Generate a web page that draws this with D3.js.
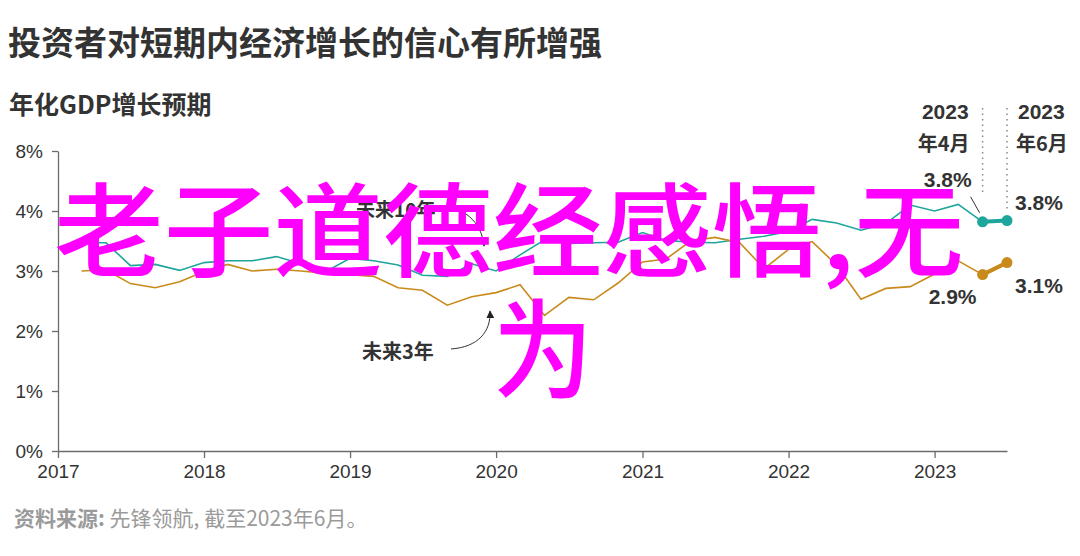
<!DOCTYPE html>
<html>
<head>
<meta charset="utf-8">
<script src="https://cdn.jsdelivr.net/npm/d3@7"></script>
<style>
  body { margin: 0; background: #fff; }
  svg text { font-family: "Liberation Sans", Arial, "Noto Sans CJK SC", sans-serif; }
  .cjk { font-family: "Noto Sans CJK SC", sans-serif; }
</style>
</head>
<body>
<div id="chart"></div>
<script>
// data: end-of-month readings, every second month
var months = ["2017-02","2017-04","2017-06","2017-08","2017-10","2017-12",
  "2018-02","2018-04","2018-06","2018-08","2018-10","2018-12",
  "2019-02","2019-04","2019-06","2019-08","2019-10","2019-12",
  "2020-02","2020-04","2020-06","2020-08","2020-10","2020-12",
  "2021-02","2021-04","2021-06","2021-08","2021-10","2021-12",
  "2022-02","2022-04","2022-06","2022-08","2022-10","2022-12",
  "2023-02","2023-04","2023-06"];

// 未来10年
var tenYear = [3.47,3.47,3.09,3.11,3.01,3.14,3.17,3.17,3.24,3.12,2.99,3.21,
  3.17,3.10,2.93,2.91,3.12,3.00,3.27,3.52,3.46,3.47,3.48,3.64,
  3.51,3.48,3.47,3.53,3.58,3.66,3.86,3.80,3.68,3.79,4.10,4.00,
  4.11,3.82,3.84];

// 未来3年
var threeYear = [3.00,3.02,2.79,2.72,2.82,2.99,3.11,3.00,3.03,3.00,2.96,2.94,
  2.91,2.72,2.68,2.43,2.57,2.64,2.77,2.26,2.56,2.52,2.80,3.15,
  3.20,3.50,3.56,3.47,3.04,3.36,3.49,3.10,2.53,2.71,2.74,2.95,
  3.17,2.94,3.14];

var yTickValues = [0, 1, 2, 3, 4, 5];
var yTickLabels = ["0%", "1%", "2%", "3%", "4%", "8%"];
var xTickYears = [2017, 2018, 2019, 2020, 2021, 2022, 2023];

var teal = "#1ea59c", gold = "#c98a1c", ink = "#333";

var width = 1080, height = 556;

var svg = d3.select("#chart")
    .append("svg")
    .attr("width", width)
    .attr("height", height);

var parseMonth = d3.timeParse("%Y-%m");
// plot each reading at the end of its month
var dates = months.map(function (m) { return d3.timeMonth.offset(parseMonth(m), 1); });

var x = d3.scaleTime()
    .domain([new Date(2017, 0, 1), new Date(2023, 6, 1)])
    .range([58, 1007]);

var y = d3.scaleLinear()
    .domain([0, 5])
    .range([451, 151]);

// titles
svg.append("text")
    .attr("class", "cjk")
    .attr("x", 8).attr("y", 55)
    .style("font-size", "33px").style("font-weight", "bold")
    .style("fill", ink)
    .text("投资者对短期内经济增长的信心有所增强");

svg.append("text")
    .attr("class", "cjk")
    .attr("x", 9).attr("y", 114)
    .style("font-size", "25px").style("font-weight", "bold")
    .style("fill", ink)
    .text("年化GDP增长预期");

// y axis
var yAxis = svg.append("g")
    .attr("transform", "translate(58,0)")
    .call(d3.axisLeft(y)
        .tickValues(yTickValues)
        .tickFormat(function (d, i) { return yTickLabels[i]; })
        .tickSize(6)
        .tickSizeOuter(0)
        .tickPadding(9));

// x axis
var xAxis = svg.append("g")
    .attr("transform", "translate(0,451)")
    .call(d3.axisBottom(x)
        .tickValues(xTickYears.map(function (yr) { return new Date(yr, 0, 1); }))
        .tickFormat(d3.timeFormat("%Y"))
        .tickSize(7)
        .tickSizeOuter(0)
        .tickPadding(7));

[yAxis, xAxis].forEach(function (g) {
    g.selectAll("path, line").style("stroke", "#6b6b6b").style("stroke-width", 1.3);
    g.selectAll("text").style("font-size", "19px").style("fill", ink)
        .style("font-family", "'Liberation Sans', Arial, sans-serif");
});

// lines
var line = d3.line()
    .x(function (d) { return x(d.date); })
    .y(function (d) { return y(d.value); });

function series(values) {
    return values.map(function (v, i) { return { date: dates[i], value: v }; });
}

var tenData = series(tenYear), threeData = series(threeYear);
var n = dates.length;

[[tenData, teal], [threeData, gold]].forEach(function (s) {
    svg.append("path")
        .datum(s[0].slice(0, n - 1))
        .attr("d", line)
        .style("fill", "none")
        .style("stroke", s[1])
        .style("stroke-width", 1.6);

    // last two readings highlighted
    svg.append("path")
        .datum(s[0].slice(n - 2))
        .attr("d", line)
        .style("fill", "none")
        .style("stroke", s[1])
        .style("stroke-width", 4);

    svg.selectAll(null)
        .data(s[0].slice(n - 2))
        .enter()
        .append("circle")
        .attr("cx", function (d) { return x(d.date); })
        .attr("cy", function (d) { return y(d.value); })
        .attr("r", 5.5)
        .style("fill", s[1]);
});

// markers at 2023年4月 and 2023年6月
var apr = tenData[n - 2], jun = tenData[n - 1];
var fmt = d3.format(".1f");

svg.append("line")
    .attr("x1", x(apr.date)).attr("x2", x(apr.date))
    .attr("y1", 108).attr("y2", y(apr.value) - 26)
    .style("stroke", "#888").style("stroke-width", 1.5)
    .style("stroke-dasharray", "1.5,4");

svg.append("line")
    .attr("x1", x(jun.date)).attr("x2", x(jun.date))
    .attr("y1", 108).attr("y2", y(jun.value) - 8)
    .style("stroke", "#888").style("stroke-width", 1.5)
    .style("stroke-dasharray", "1.5,4");

function header(xpos, anchor, label) {
    svg.append("text")
        .attr("x", xpos).attr("y", 119)
        .attr("text-anchor", anchor)
        .style("font-size", "21px").style("font-weight", "bold").style("fill", ink)
        .text("2023");
    svg.append("text")
        .attr("class", "cjk")
        .attr("x", xpos + (anchor === "end" ? 1 : -2)).attr("y", 151)
        .attr("text-anchor", anchor)
        .style("font-size", "20px").style("font-weight", "bold").style("fill", ink)
        .text(label);
}
header(x(apr.date) - 14, "end", "年4月");
header(x(jun.date) + 11, "start", "年6月");

function valueLabel(xpos, ypos, anchor, v) {
    svg.append("text")
        .attr("x", xpos).attr("y", ypos)
        .attr("text-anchor", anchor)
        .style("font-size", "21px").style("font-weight", "bold").style("fill", ink)
        .text(fmt(v) + "%");
}

valueLabel(x(apr.date) - 11, y(apr.value) - 35, "end", apr.value);
svg.append("line")
    .attr("x1", x(apr.date) - 12).attr("y1", y(apr.value) - 25)
    .attr("x2", x(apr.date) - 3).attr("y2", y(apr.value) - 9)
    .style("stroke", ink).style("stroke-width", 1);
valueLabel(x(jun.date) + 8, y(jun.value) - 11, "start", jun.value);

var apr3 = threeData[n - 2], jun3 = threeData[n - 1];
valueLabel(x(apr3.date) - 30, y(apr3.value) + 29, "middle", apr3.value);
valueLabel(x(jun3.date) + 8, y(jun3.value) + 30, "start", jun3.value);

// series annotations
svg.append("defs").append("marker")
    .attr("id", "arrow")
    .attr("viewBox", "0 0 10 10")
    .attr("refX", 9).attr("refY", 5)
    .attr("markerWidth", 8).attr("markerHeight", 8)
    .attr("orient", "auto")
    .append("path")
    .attr("d", "M0,0 L10,5 L0,10 z")
    .style("fill", "#222");

svg.append("text")
    .attr("class", "cjk")
    .attr("x", 356).attr("y", 217)
    .style("font-size", "19px").style("font-weight", "bold").style("fill", ink)
    .text("未来10年");

svg.append("path")
    .attr("d", "M437,207 C462,204 482,222 484,246")
    .attr("marker-end", "url(#arrow)")
    .style("fill", "none").style("stroke", "#333").style("stroke-width", 1);

svg.append("text")
    .attr("class", "cjk")
    .attr("x", 362).attr("y", 359)
    .style("font-size", "20px").style("font-weight", "bold").style("fill", ink)
    .text("未来3年");

svg.append("path")
    .attr("d", "M451,349 C478,347 491,332 490,311")
    .attr("marker-end", "url(#arrow)")
    .style("fill", "none").style("stroke", "#333").style("stroke-width", 1);

// source
var src = svg.append("text")
    .attr("class", "cjk")
    .attr("x", 14).attr("y", 526)
    .style("font-size", "21px").style("fill", "#9a9a9a");
src.append("tspan").style("font-weight", "bold").text("资料来源: ");
src.append("tspan").text("先锋领航, 截至2023年6月。");

// overlay text
var wm = svg.append("g")
    .style("fill", "#ff00ff")
    .style("font-weight", "500");
wm.append("text").attr("class", "cjk")
    .attr("x", 54).attr("y", 269)
    .style("font-size", "102px")
    .attr("textLength", 910).attr("lengthAdjust", "spacingAndGlyphs")
    .text("老子道德经感悟,无");
wm.append("text").attr("class", "cjk")
    .attr("x", 493).attr("y", 390)
    .style("font-size", "108px")
    .attr("textLength", 100).attr("lengthAdjust", "spacingAndGlyphs")
    .text("为");
</script>
</body>
</html>
